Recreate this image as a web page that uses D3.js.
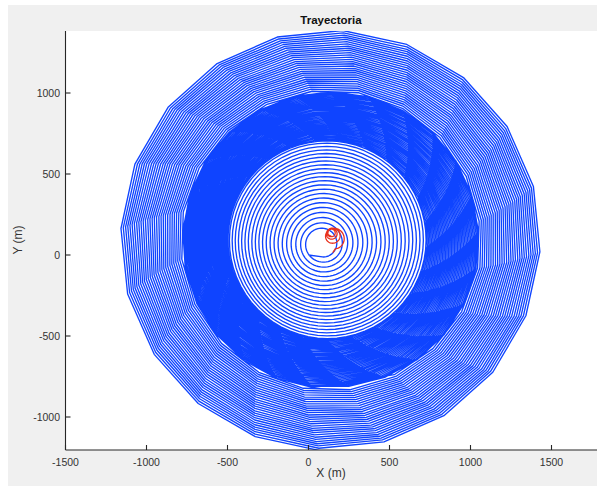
<!DOCTYPE html>
<html><head><meta charset="utf-8">
<script src="https://cdn.jsdelivr.net/npm/d3@7"></script>
<style>body{margin:0;background:#fff}svg{display:block}text{font-family:"Liberation Sans",Arial,Helvetica,sans-serif}</style>
</head><body>
<svg id="c" width="597" height="486"></svg>
<script>
// ---- data ----
const xTicks = [-1500, -1000, -500, 0, 500, 1000, 1500];
const yTicks = [-1000, -500, 0, 500, 1000];
// radius (m) of each blue turn, read from the rings
const innerRadii = [80,113,145,176,206,235,263,290,316,342,367,391,415,438,461,484,506,528,549,570,590,608];
const denseRadii = [616,624,632,640,648,656,664,672,680,688,696,704,712,720,728,736,744,752,760,768,776,784,792,800,808,816,824,832,840,848,856,864,872,880,888,896,904,910];
const outerRadii = [918,932,945,958,971,984,997,1010,1024,1037,1050,1063,1076,1090,1103,1116,1129,1142,1156,1169,1182,1195,1208,1222,1235,1248,1261,1274,1288,1302];
// samples per turn, vertex phase (deg) and ring centres (m) of the three zones
const segSamples = [64, 24.96, 19.985];
const segPhase = [null, null, 9];
const segCenterX = [86, 117, 139, 139];
const segCenterY = [68, 93, 93, 93];
const startPoint = [0, 0];
// red trajectory (small spiral near the centre)
const redStart = [150, 15];
const redRadii = [62, 47, 34, 24, 20];
const redCenterX = [165, 153, 146, 142, 141];
const redCenterY = [100, 120, 132, 137, 138];

// ---- layout ----
const W = 597, H = 486;
const svg = d3.select('#c');
const plot = {left: 65.5, top: 31, right: 597, bottom: 450};
const x = d3.scaleLinear().domain([-1500, 1500]).range([65.5, 551.5]);
const y = d3.scaleLinear().domain([-1000, 1000]).range([417, 93]);

svg.append('rect').attr('x', 8).attr('y', 5).attr('width', W - 8).attr('height', H - 5).attr('fill', '#f0f0f0');
svg.append('rect').attr('x', plot.left).attr('y', plot.top).attr('width', plot.right - plot.left).attr('height', plot.bottom - plot.top).attr('fill', '#fff');

svg.append('defs').append('clipPath').attr('id', 'clip').append('rect')
  .attr('x', plot.left).attr('y', plot.top).attr('width', plot.right - plot.left).attr('height', plot.bottom - plot.top);

// ---- build the blue spiral from the turn radii ----
const segs = [innerRadii, denseRadii, outerRadii];
const allR = [], turnSeg = [];
segs.forEach((arr, s) => arr.forEach(r => { allR.push(r); turnSeg.push(s); }));
const segStartTurn = [0, innerRadii.length, innerRadii.length + denseRadii.length, allR.length];
function centreAt(t) {
  let s = 0;
  while (s < 2 && t >= segStartTurn[s + 1]) s++;
  const f = (t - segStartTurn[s]) / (segStartTurn[s + 1] - segStartTurn[s]);
  return [segCenterX[s] + (segCenterX[s + 1] - segCenterX[s]) * f,
          segCenterY[s] + (segCenterY[s + 1] - segCenterY[s]) * f];
}
const bluePts = [startPoint];
let theta = -Math.PI / 2, t = 0, curSeg = 0;
const nT = allR.length - 1;
while (t <= nT) {
  const s = turnSeg[Math.min(Math.floor(t), nT)];
  const n = segSamples[s];
  const step = 2 * Math.PI / n;
  if (s !== curSeg) {
    curSeg = s;
    if (segPhase[s] !== null) {
      const ph = segPhase[s] * Math.PI / 180;
      const kk = Math.ceil((theta - ph) / step);
      const nt = ph + kk * step;
      t += (nt - theta) / (2 * Math.PI);
      theta = nt;
    }
  }
  const k = Math.min(Math.floor(t), nT - 1);
  const f = t - k;
  const r = allR[k] + (allR[k + 1] - allR[k]) * f;
  const c = centreAt(t);
  bluePts.push([c[0] + r * Math.cos(theta), c[1] + r * Math.sin(theta)]);
  theta += step;
  t += 1 / n;
}

const line = d3.line().x(d => x(d[0])).y(d => y(d[1]));
const g = svg.append('g').attr('clip-path', 'url(#clip)');
g.append('path').attr('d', line(bluePts)).attr('fill', 'none')
  .attr('stroke', '#0f44ff').attr('stroke-width', 1.35).attr('stroke-linejoin', 'round');

// ---- red spiral ----
const redPts = [redStart];
let th = -Math.PI / 2;
const nR = redRadii.length - 1;
for (let tt = 0; tt <= nR; tt += 1 / 60) {
  const k = Math.min(Math.floor(tt), nR - 1), f = tt - k;
  const r = redRadii[k] + (redRadii[k + 1] - redRadii[k]) * f;
  const cx = redCenterX[k] + (redCenterX[k + 1] - redCenterX[k]) * f;
  const cy = redCenterY[k] + (redCenterY[k + 1] - redCenterY[k]) * f;
  redPts.push([cx + r * Math.cos(th), cy + r * Math.sin(th)]);
  th += 2 * Math.PI / 60;
}
g.append('path').attr('d', line(redPts)).attr('fill', 'none')
  .attr('stroke', '#e8321e').attr('stroke-width', 1.3);

// ---- axes ----
const ax = svg.append('g').attr('stroke', '#262626').attr('stroke-width', 1.1);
ax.append('line').attr('x1', plot.left).attr('x2', plot.left).attr('y1', plot.top).attr('y2', plot.bottom);
ax.append('line').attr('x1', plot.left).attr('x2', plot.right).attr('y1', plot.bottom).attr('y2', plot.bottom);
ax.selectAll('.xt').data(xTicks).enter().append('line')
  .attr('x1', d => x(d)).attr('x2', d => x(d)).attr('y1', plot.bottom).attr('y2', plot.bottom - 5);
ax.selectAll('.yt').data(yTicks).enter().append('line')
  .attr('x1', plot.left).attr('x2', plot.left + 5).attr('y1', d => y(d)).attr('y2', d => y(d));

svg.selectAll('.xl').data(xTicks).enter().append('text')
  .attr('x', d => x(d)).attr('y', 466).attr('text-anchor', 'middle')
  .attr('font-size', 10.5).attr('fill', '#333').text(d => d);
svg.selectAll('.yl').data(yTicks).enter().append('text')
  .attr('x', 60).attr('y', d => y(d) + 3.8).attr('text-anchor', 'end')
  .attr('font-size', 10.5).attr('fill', '#333').text(d => d);

svg.append('text').attr('x', 331).attr('y', 477).attr('text-anchor', 'middle')
  .attr('font-size', 12).attr('fill', '#333').text('X (m)');
svg.append('text').attr('transform', 'translate(22,240) rotate(-90)').attr('text-anchor', 'middle')
  .attr('font-size', 12).attr('fill', '#333').text('Y (m)');
svg.append('text').attr('x', 331).attr('y', 24).attr('text-anchor', 'middle')
  .attr('font-size', 11.5).attr('font-weight', 'bold').attr('fill', '#111').text('Trayectoria');
</script>
</body></html>
